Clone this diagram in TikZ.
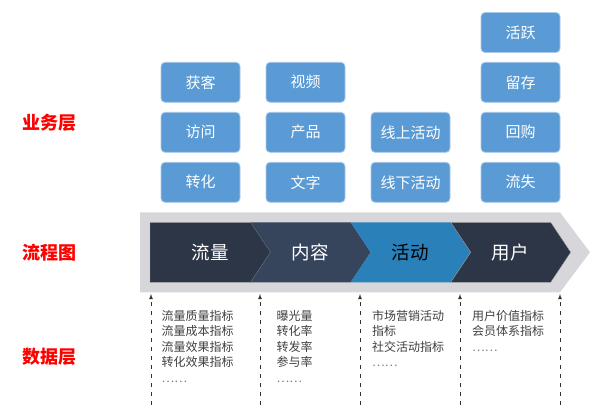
\documentclass[tikz,border=0pt]{standalone}
\usepackage{fontspec}
\setmainfont{Noto Sans CJK SC}
\usetikzlibrary{calc,positioning,arrows}
\definecolor{boxblue}{HTML}{5B9BD5}
\definecolor{boxline}{HTML}{A9C8EA}
\definecolor{bandgray}{HTML}{D7D7DB}
\definecolor{navyA}{HTML}{2C3646}
\definecolor{navyB}{HTML}{36445C}
\definecolor{stepblue}{HTML}{2A80B9}
\definecolor{txtgray}{HTML}{404040}

\begin{document}
\begin{tikzpicture}[x=1pt,y=-1pt,
  blk/.style={draw=boxline,line width=.8pt,fill=boxblue,rounded corners=4pt,minimum width=79pt,minimum height=40pt,inner sep=0pt,text=white,font=\fontsize{15}{15}\selectfont},
  lay/.style={text=red,font=\fontsize{18}{18}\selectfont\bfseries,inner sep=0pt},
  stp/.style={font=\fontsize{18.5}{18.5}\selectfont,inner sep=0pt},
  dat/.style={anchor=north west,align=left,inner sep=0pt,text=txtgray,font=\fontsize{12}{15.5}\selectfont},
  up/.style={-latex,dashed,dash pattern=on 4pt off 5pt,line width=.8pt,black!80}]
  \useasboundingbox (0,0) rectangle (611,416);

  % left layer names
  \node[lay] (l1) at (50,123) {业务层};
  \node[lay] (l2) at (50,252.5) {流程图};
  \node[lay] (l3) at (50,356.5) {数据层};

  % business boxes
  \node[blk] (a1) at (200.5,82.3) {获客};
  \node[blk] (a2) at (200.5,132.3) {访问};
  \node[blk] (a3) at (200.5,182.3) {转化};
  \node[blk] (b1) at (305.5,82.3) {视频};
  \node[blk] (b2) at (305.5,132.3) {产品};
  \node[blk] (b3) at (305.5,182.3) {文字};
  \node[blk] (c2) at (410.5,132.3) {线上活动};
  \node[blk] (c3) at (410.5,182.3) {线下活动};
  \node[blk] (d0) at (520.5,32.5) {活跃};
  \node[blk] (d1) at (520.5,82.3) {留存};
  \node[blk] (d2) at (520.5,132.3) {回购};
  \node[blk] (d3) at (520.5,182.3) {流失};

  % flow band
  \fill[bandgray] (140,212.3) -- (560,212.3) -- (590,252.3) -- (560,292.3) -- (140,292.3) -- cycle;
  \fill[navyA,draw=gray!70,line width=.4pt] (150,222.3) -- (250.7,222.3) -- (270.7,252.3) -- (250.7,282.3) -- (150,282.3) -- cycle;
  \fill[navyB] (250.7,222.3) -- (350.7,222.3) -- (370.7,252.3) -- (350.7,282.3) -- (250.7,282.3) -- (270.7,252.3) -- cycle;
  \fill[stepblue] (350.7,222.3) -- (450.7,222.3) -- (470.7,252.3) -- (450.7,282.3) -- (350.7,282.3) -- (370.7,252.3) -- cycle;
  \fill[navyA,draw=gray!70,line width=.4pt] (450.7,222.3) -- (550.7,222.3) -- (570.7,252.3) -- (550.7,282.3) -- (450.7,282.3) -- (470.7,252.3) -- cycle;
  \node[stp,text=white] (s1) at (210,252.3) {流量};
  \node[stp,text=white] (s2) at (310,252.3) {内容};
  \node[stp,text=black] (s3) at (410,252.3) {活动};
  \node[stp,text=white] (s4) at (510,252.3) {用户};

  % data arrows
  \coordinate (e1) at (151,405);  \coordinate (f1) at (151,294);
  \coordinate (e2) at (260,405);  \coordinate (f2) at (260,294);
  \coordinate (e3) at (360,405);  \coordinate (f3) at (360,294);
  \coordinate (e4) at (460,405);  \coordinate (f4) at (460,294);
  \coordinate (e5) at (560,405);  \coordinate (f5) at (560,294);
  \draw[up] (e1) -- (f1);
  \draw[up] (e2) -- (f2);
  \draw[up] (e3) -- (f3);
  \draw[up] (e4) -- (f4);
  \draw[up] (e5) -- (f5);

  % data texts
  \node[dat] (t1) at (161.5,310) {流量质量指标\\流量成本指标\\流量效果指标\\转化效果指标\\{\color{gray}……}};
  \node[dat] (t2) at (276.5,310) {曝光量\\转化率\\转发率\\参与率\\{\color{gray}……}};
  \node[dat] (t3) at (372,310) {市场营销活动\\指标\\社交活动指标\\{\color{gray}……}};
  \node[dat] (t4) at (472,310) {用户价值指标\\会员体系指标\\{\color{gray}……}};
\end{tikzpicture}
\end{document}
